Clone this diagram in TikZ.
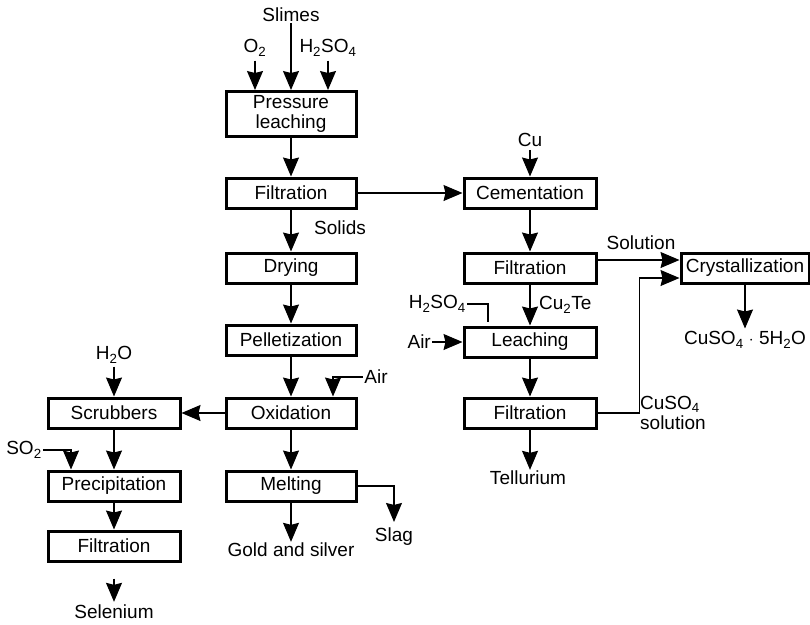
\documentclass[tikz,border=0pt]{standalone}
\usepackage{fontspec}
\setmainfont{Liberation Sans}
\usetikzlibrary{arrows.meta}
\newcommand{\chsub}[1]{\textsubscript{#1}}
\begin{document}
\begin{tikzpicture}[x=1pt,y=-1pt,
  proc/.style={draw, line width=3pt, minimum width=130pt, minimum height=30pt,
    inner sep=0pt, font=\fontsize{19}{21}\selectfont, align=center},
  lbl/.style={inner sep=1pt, font=\fontsize{19}{21}\selectfont},
  flow/.style={line width=1.1pt, -{Stealth[length=19pt,width=16pt,inset=2pt]}},
  link/.style={line width=1.1pt}]
\useasboundingbox (0,0) rectangle (810,624);

% main column
\node[proc, minimum height=45pt] (pl) at (291,114) {Pressure\\[-1pt]leaching};
\node[proc] (f1) at (291,193) {Filtration};
\node[proc] (dry) at (291,268) {Drying};
\node[proc] (pel) at (291,340) {Pelletization};
\node[proc] (ox) at (291,413) {Oxidation};
\node[proc] (melt) at (291,486) {Melting};

% selenium column
\node[proc, minimum width=132pt] (scr) at (114,413) {Scrubbers};
\node[proc, minimum width=132pt] (prec) at (114,486) {Precipitation};
\node[proc, minimum width=132pt] (f4) at (114,546) {Filtration};

% tellurium column
\node[proc, minimum width=132pt] (cem) at (530,193) {Cementation};
\node[proc, minimum width=132pt] (f2) at (530,268) {Filtration};
\node[proc, minimum width=132pt] (leach) at (530,342) {Leaching};
\node[proc, minimum width=132pt] (f3) at (530,413) {Filtration};
\node[proc, minimum width=128pt] (cry) at (745,268) {Crystallization};

% stream labels
\node[lbl] (slimes) at (291,15) {Slimes};
\node[lbl] (o2) at (255,48) {O\chsub{2}};
\node[lbl] (h2so4a) at (328,48) {H\chsub{2}SO\chsub{4}};
\node[lbl] (solids) at (340,228) {Solids};
\node[lbl] (airO) at (376,377) {Air};
\node[lbl] (h2o) at (114,355) {H\chsub{2}O};
\node[lbl] (so2) at (24,450) {SO\chsub{2}};
\node[lbl] (gold) at (291,550) {Gold and silver};
\node[lbl] (slag) at (394,537) {Slag};
\node[lbl] (sel) at (114,612) {Selenium};
\node[lbl] (cu) at (530,140) {Cu};
\node[lbl] (soln) at (641,243) {Solution};
\node[lbl, anchor=west] (cu2te) at (538,305) {Cu\chsub{2}Te};
\node[lbl, anchor=east] (h2so4b) at (467,304) {H\chsub{2}SO\chsub{4}};
\node[lbl, anchor=east] (airL) at (432,342) {Air};
\node[lbl, anchor=west, align=left] (cuso4) at (639,413) {CuSO\chsub{4}\\[-1pt]solution};
\node[lbl] (prod) at (745,340) {CuSO\chsub{4} $\cdot$ 5H\chsub{2}O};
\node[lbl] (tell) at (528,478) {Tellurium};

% main column flows
\draw[flow] (slimes.south) -- (slimes.south |- pl.north);
\draw[flow] ([yshift=-3pt]o2.south) -- (o2.south |- pl.north);
\draw[flow] ([yshift=-3pt]h2so4a.south) -- (h2so4a.south |- pl.north);
\draw[flow] (pl) -- (f1);
\draw[flow] (f1) -- (dry);
\draw[flow] (dry) -- (pel);
\draw[flow] (pel) -- (ox);
\draw[flow] (airO.west) -| ([xshift=42pt]ox.north);
\draw[flow] (ox) -- (melt);
\draw[flow] (melt.south) -- (melt.south |- gold.north);
\draw[flow] (melt.east) -| ([yshift=5pt]slag.north);

% selenium flows
\draw[flow] (ox.west) -- (scr.east);
\draw[flow] ([yshift=-2pt]h2o.south) -- (h2o.south |- scr.north);
\draw[flow] (scr) -- (prec);
\draw[flow] (so2.east) -| ([xshift=-43pt]prec.north);
\draw[flow] (prec) -- (f4);
\draw[flow] ([yshift=-16pt]f4.south) -- ([yshift=2pt]sel.north);

% copper and tellurium flows
\draw[flow] (f1.east) -- (cem.west);
\draw[flow] ([yshift=-2pt]cu.south) -- (cu.south |- cem.north);
\draw[flow] (cem) -- (f2);
\draw[flow] ([yshift=8pt]f2.east) -- ([yshift=8pt]cry.west);
\draw[flow] (f2) -- (leach);
\draw[link] (h2so4b.east) -- ++(21,0) -- ++(0,18);
\draw[flow] (airL.east) -- (leach.west);
\draw[flow] (leach) -- (f3);
\draw[flow] (f3.east) -- ++(42,0) |- ([yshift=-10pt]cry.west);
\draw[flow] (cry.south) -- ([yshift=2pt]prod.north);
\draw[flow] (f3.south) -- (f3.south |- tell.north);
\end{tikzpicture}
\end{document}
